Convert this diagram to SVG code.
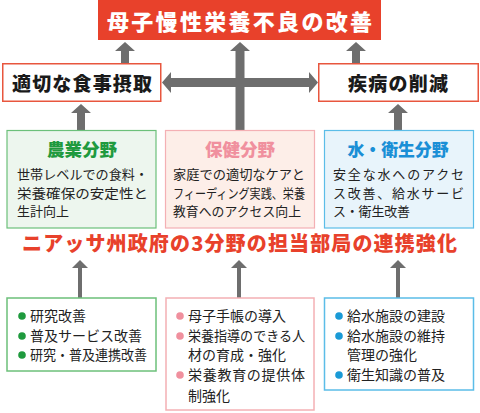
<svg xmlns="http://www.w3.org/2000/svg" width="480" height="413" viewBox="0 0 480 413">
<style>
text{font-family:"Noto Sans CJK JP","Noto Sans",sans-serif;}
.arr{fill:#6e6e6e;}
.goal{fill:#e8412b;}
.outc{fill:#ffffff;stroke:#e8563e;stroke-width:1.5;}
.h1{font-size:22px;font-weight:900;fill:#ffffff;}
.h2{font-size:19px;font-weight:900;fill:#1a1a1a;}
.sec{font-size:17.5px;font-weight:900;}
.body{font-size:13px;fill:#222;}
.li{font-size:14px;fill:#222;}
.red{font-size:20px;font-weight:900;fill:#e8412b;}
</style>
<g id="connectors">
<polygon class="arr" points="125,42 135,51 129,51 129,63 121,63 121,51 115,51"/>
<polygon class="arr" points="356,42 366,51 360,51 360,63 352,63 352,51 346,51"/>
<polygon class="arr" points="240,42 250,51 244.5,51 244.5,130 235.5,130 235.5,51 230,51"/>
<polygon class="arr" points="162,82.5 171,72 171,78 309,78 309,72 318,82.5 309,93 309,87 171,87 171,93"/>
<polygon class="arr" points="81,104 91,113 85,113 85,130 77,130 77,113 71,113"/>
<polygon class="arr" points="398,104 408,113 402,113 402,130 394,130 394,113 388,113"/>
<polygon class="arr" points="80,260 88,268 82,268 82,298 78,298 78,268 72,268"/>
<polygon class="arr" points="239,260 247,268 241,268 241,298 237,298 237,268 231,268"/>
<polygon class="arr" points="398,260 406,268 400,268 400,298 396,298 396,268 390,268"/>
</g>
<g id="goal">
<rect class="goal" x="98" y="0" width="283" height="40"/>
<text class="h1" x="239.5" y="30" text-anchor="middle" textLength="265" lengthAdjust="spacing">母子慢性栄養不良の改善</text>
</g>
<g id="intake">
<rect class="outc" x="2.75" y="63.75" width="158" height="37.5"/>
<text class="h2" x="82" y="91" text-anchor="middle" textLength="140" lengthAdjust="spacing">適切な食事摂取</text>
</g>
<g id="disease">
<rect class="outc" x="318.75" y="63.75" width="159.5" height="37.5"/>
<text class="h2" x="398" y="91" text-anchor="middle" textLength="100" lengthAdjust="spacing">疾病の削減</text>
</g>
<g id="agri">
<rect x="7" y="130.5" width="149" height="97.5" fill="#edf6ee" stroke="#6cc07a" stroke-width="1.2"/>
<text class="sec" x="82" y="156" text-anchor="middle" fill="#1f9a3e">農業分野</text>
<text class="body" x="17" y="179" textLength="131" lengthAdjust="spacingAndGlyphs">世帯レベルでの食料・</text>
<text class="body" x="17" y="198" textLength="131" lengthAdjust="spacingAndGlyphs">栄養確保の安定性と</text>
<text class="body" x="17" y="216">生計向上</text>
</g>
<g id="health">
<rect x="165.5" y="130.5" width="149" height="97.5" fill="#fdeee8" stroke="#f4b0b4" stroke-width="1.2"/>
<text class="sec" x="240" y="156" text-anchor="middle" fill="#f0909e">保健分野</text>
<text class="body" x="173" y="179" textLength="132" lengthAdjust="spacingAndGlyphs">家庭での適切なケアと</text>
<text class="body" x="173" y="198" textLength="132" lengthAdjust="spacingAndGlyphs">フィーディング実践、栄養</text>
<text class="body" x="173" y="216" textLength="128" lengthAdjust="spacingAndGlyphs">教育へのアクセス向上</text>
</g>
<g id="water">
<rect x="324.5" y="130.5" width="149" height="97.5" fill="#e8f4fb" stroke="#5bbde8" stroke-width="1.2"/>
<text class="sec" x="398" y="156" text-anchor="middle" fill="#1a8fd6" textLength="101" lengthAdjust="spacingAndGlyphs">水・衛生分野</text>
<text class="body" x="333" y="179" textLength="131" lengthAdjust="spacing">安全な水へのアクセ</text>
<text class="body" x="333" y="198" textLength="131" lengthAdjust="spacing">ス改善、給水サービ</text>
<text class="body" x="333" y="216" textLength="77" lengthAdjust="spacing">ス・衛生改善</text>
</g>
<g id="coord">
<text class="red" x="239.5" y="251" text-anchor="middle" textLength="435" lengthAdjust="spacing">ニアッサ州政府の3分野の担当部局の連携強化</text>
</g>
<g id="agri-actions">
<rect x="7" y="298" width="149" height="73" fill="#ffffff" stroke="#6cc07a" stroke-width="1.5"/>
<circle cx="22" cy="316" r="3.8" fill="#1f9a3e"/>
<circle cx="22" cy="336" r="3.8" fill="#1f9a3e"/>
<circle cx="22" cy="355" r="3.8" fill="#1f9a3e"/>
<text class="li" x="30" y="321">研究改善</text>
<text class="li" x="30" y="341">普及サービス改善</text>
<text class="li" x="30" y="360" textLength="117" lengthAdjust="spacingAndGlyphs">研究・普及連携改善</text>
</g>
<g id="health-actions">
<rect x="166" y="298" width="148" height="112" fill="#ffffff" stroke="#f4b0b4" stroke-width="1.5"/>
<circle cx="180" cy="316" r="3.8" fill="#f0909e"/>
<circle cx="180" cy="336" r="3.8" fill="#f0909e"/>
<circle cx="180" cy="375" r="3.8" fill="#f0909e"/>
<text class="li" x="188" y="321">母子手帳の導入</text>
<text class="li" x="188" y="341" textLength="117" lengthAdjust="spacingAndGlyphs">栄養指導のできる人</text>
<text class="li" x="188" y="360">材の育成・強化</text>
<text class="li" x="188" y="380" textLength="117" lengthAdjust="spacing">栄養教育の提供体</text>
<text class="li" x="188" y="401">制強化</text>
</g>
<g id="water-actions">
<rect x="324.5" y="298" width="149" height="92" fill="#ffffff" stroke="#5bbde8" stroke-width="1.5"/>
<circle cx="339" cy="316" r="3.8" fill="#1a9ad6"/>
<circle cx="339" cy="336" r="3.8" fill="#1a9ad6"/>
<circle cx="339" cy="375" r="3.8" fill="#1a9ad6"/>
<text class="li" x="347" y="321">給水施設の建設</text>
<text class="li" x="347" y="341">給水施設の維持</text>
<text class="li" x="347" y="360">管理の強化</text>
<text class="li" x="347" y="380">衛生知識の普及</text>
</g>
</svg>
